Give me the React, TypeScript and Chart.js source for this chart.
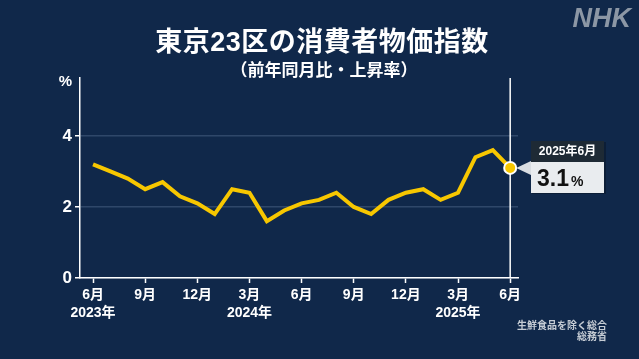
import React, { useEffect, useRef } from 'react';
import { Chart, registerables } from 'chart.js';
Chart.register(...registerables);

const categories = [
  '2023年6月', '2023年7月', '2023年8月', '2023年9月', '2023年10月', '2023年11月', '2023年12月',
  '2024年1月', '2024年2月', '2024年3月', '2024年4月', '2024年5月', '2024年6月', '2024年7月',
  '2024年8月', '2024年9月', '2024年10月', '2024年11月', '2024年12月',
  '2025年1月', '2025年2月', '2025年3月', '2025年4月', '2025年5月', '2025年6月',
];
const values = [3.2, 3.0, 2.8, 2.5, 2.7, 2.3, 2.1, 1.8, 2.5, 2.4, 1.6, 1.9, 2.1, 2.2, 2.4, 2.0, 1.8, 2.2, 2.4, 2.5, 2.2, 2.4, 3.4, 3.6, 3.1];
const tickMonths = ['6月', '9月', '12月', '3月', '6月', '9月', '12月', '3月', '6月'];
const tickYears = ['2023年', '', '', '2024年', '', '', '', '2025年', ''];
const yTicks = [0, 2, 4];

const title = '東京23区の消費者物価指数';
const subtitle = '（前年同月比・上昇率）';
const sourceLines = ['生鮮食品を除く総合', '総務省'];
const latestLabel = '2025年6月';
const latestValue = '3.1';

const FONT = "'Liberation Sans', 'Noto Sans CJK JP', sans-serif";
const BG = '#10284a';
const YELLOW = '#f7c700';

export default function App() {
  const ref = useRef<HTMLCanvasElement>(null);
  useEffect(() => {
    const canvas = ref.current!;
    const lastIdx = values.length - 1;
    const deco = {
      id: 'deco',
      beforeDraw(chart: any) {
        const ctx = chart.ctx;
        ctx.save();
        ctx.fillStyle = BG;
        ctx.fillRect(0, 0, chart.width, chart.height);
        ctx.restore();
      },
      beforeDatasetsDraw(chart: any) {
        const ctx = chart.ctx;
        const x = chart.scales.x.getPixelForValue(lastIdx);
        ctx.save();
        ctx.strokeStyle = '#ffffff';
        ctx.lineWidth = 1.5;
        ctx.beginPath();
        ctx.moveTo(x, chart.chartArea.top);
        ctx.lineTo(x, chart.chartArea.bottom);
        ctx.stroke();
        ctx.restore();
      },
      afterDraw(chart: any) {
        const ctx = chart.ctx;
        ctx.save();
        // title
        ctx.fillStyle = '#ffffff';
        ctx.textAlign = 'center';
        ctx.textBaseline = 'middle';
        ctx.font = `bold 27px ${FONT}`;
        (ctx as any).letterSpacing = '0.5px';
        ctx.fillText(title, 322, 44);
        ctx.font = `bold 17px ${FONT}`;
        (ctx as any).letterSpacing = '0px';
        ctx.fillText(subtitle, 324, 71);
        // % unit
        ctx.font = `bold 15px ${FONT}`;
        ctx.textAlign = 'right';
        ctx.fillText('%', 72, 82);
        // NHK logo
        ctx.fillStyle = '#8c97a5';
        ctx.font = `italic bold 27px ${FONT}`;
        ctx.textAlign = 'right';
        ctx.textBaseline = 'alphabetic';
        ctx.fillText('NHK', 631, 27);
        // source
        ctx.fillStyle = '#c5ccd4';
        ctx.font = `bold 10px ${FONT}`;
        ctx.textBaseline = 'middle';
        ctx.fillText(sourceLines[0], 607, 326);
        ctx.fillText(sourceLines[1], 607, 337);
        // annotation
        const px = chart.scales.x.getPixelForValue(lastIdx);
        const py = chart.scales.y.getPixelForValue(values[lastIdx]);
        const bx = 531, bw = 73;
        ctx.fillStyle = 'rgba(0,0,0,0.25)';
        ctx.fillRect(bx + 1, 142, bw + 1, 52);
        ctx.fillStyle = '#d9dde2';
        ctx.beginPath();
        ctx.moveTo(px + 6, py);
        ctx.lineTo(bx, py - 7);
        ctx.lineTo(bx, py + 7);
        ctx.closePath();
        ctx.fill();
        ctx.fillStyle = '#1e2a35';
        ctx.fillRect(bx, 141, bw, 21);
        ctx.fillStyle = '#e9ecef';
        ctx.fillRect(bx, 162, bw, 31);
        ctx.fillStyle = '#ffffff';
        ctx.font = `bold 12px ${FONT}`;
        ctx.textAlign = 'center';
        ctx.fillText(latestLabel, bx + bw / 2, 152);
        ctx.fillStyle = '#111111';
        ctx.textAlign = 'left';
        ctx.textBaseline = 'alphabetic';
        ctx.font = `bold 23px ${FONT}`;
        ctx.fillText(latestValue, 537, 186);
        const w = ctx.measureText(latestValue).width;
        ctx.font = `bold 14px ${FONT}`;
        ctx.fillText('%', 537 + w + 2, 186);
        ctx.restore();
      },
    };
    const chart = new Chart(canvas, {
      type: 'line',
      data: {
        labels: categories,
        datasets: [{
          data: values.map((v, i) => ({ x: i, y: v })),
          borderColor: YELLOW,
          borderWidth: 4,
          tension: 0,
          pointRadius: (c: any) => (c.dataIndex === lastIdx ? 6 : 0),
          pointHoverRadius: 0,
          pointBackgroundColor: YELLOW,
          pointBorderColor: '#ffffff',
          pointBorderWidth: 2,
        }],
      },
      options: {
        responsive: false,
        animation: false,
        events: [],
        layout: { padding: { top: 78, right: 121, left: 0, bottom: 0 } },
        plugins: { legend: { display: false }, tooltip: { enabled: false }, title: { display: false } },
        scales: {
          x: {
            type: 'linear',
            min: -0.75,
            max: 24.45,
            afterBuildTicks: (s: any) => { s.ticks = tickMonths.map((_, k) => ({ value: k * 3 })); },
            afterFit: (s: any) => { s.height = 81; },
            grid: { drawOnChartArea: false, tickColor: '#ffffff', tickLength: 5, tickWidth: 1.5 },
            border: { color: '#ffffff', width: 1.5 },
            ticks: {
              autoSkip: false,
              maxRotation: 0,
              color: '#ffffff',
              padding: 3,
              font: { family: FONT, size: 14, weight: 'bold', lineHeight: 1.29 },
              callback: (v: any) => {
                const k = Math.round(Number(v) / 3);
                return tickYears[k] ? [tickMonths[k], tickYears[k]] : tickMonths[k];
              },
            },
          },
          y: {
            min: 0,
            max: 5.63,
            afterBuildTicks: (s: any) => { s.ticks = yTicks.map((v) => ({ value: v })); },
            afterFit: (s: any) => { s.width = 80; },
            grid: { color: 'rgba(120,145,180,0.3)', lineWidth: 1.5, tickColor: '#ffffff', tickLength: 5, tickWidth: 1.5 },
            border: { color: '#ffffff', width: 1.5 },
            ticks: {
              color: '#ffffff',
              padding: 3,
              font: { family: FONT, size: 17, weight: 'bold' },
            },
          },
        },
      },
      plugins: [deco],
    } as any);
    return () => chart.destroy();
  }, []);
  return (
    <div style={{ position: 'fixed', left: 0, top: 0, width: 639, height: 359, background: BG }}>
      <canvas ref={ref} width={639} height={359} style={{ display: 'block' }} />
    </div>
  );
}
